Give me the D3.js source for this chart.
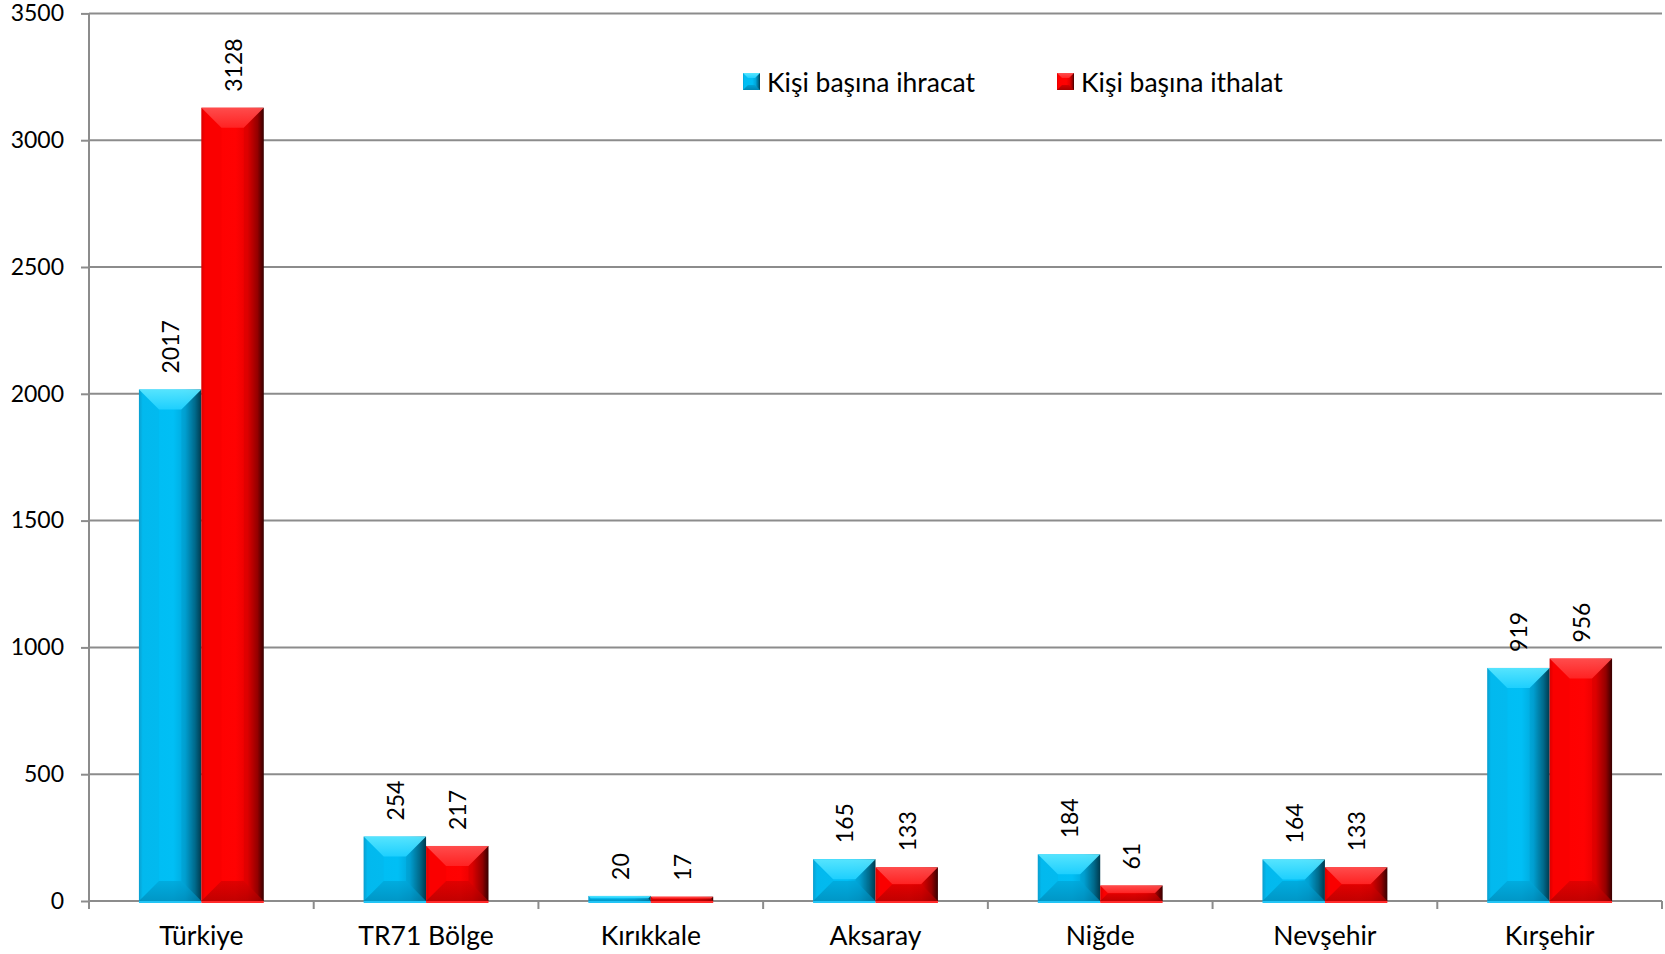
<!DOCTYPE html>
<html>
<head>
<meta charset="utf-8">
<script src="https://cdn.jsdelivr.net/npm/d3@7"></script>
<style>
  html, body { margin: 0; padding: 0; background: #ffffff; }
  svg { display: block; }
  text { font-family: Lato, "Open Sans", sans-serif; fill: #000; }
</style>
</head>
<body>
<svg id="chart" width="1665" height="954"></svg>
<script>
// ---- data ----
const categories = ["Türkiye", "TR71 Bölge", "Kırıkkale", "Aksaray", "Niğde", "Nevşehir", "Kırşehir"];
const seriesNames = ["Kişi başına ihracat", "Kişi başına ithalat"];
const exportValues = [2017, 254, 20, 165, 184, 164, 919];
const importValues = [3128, 217, 17, 133, 61, 133, 956];
const yTicks = [0, 500, 1000, 1500, 2000, 2500, 3000, 3500];

// ---- layout ----
const plotLeft = 89, plotRight = 1662, plotTop = 13.4, plotBottom = 901;
const numSize = 23, textSize = 26.5;

const svg = d3.select("#chart");
const defs = svg.append("defs");

const palettes = [
  { key: "b", base: ["#0a9ccc", "#00bdf3", "#00bff5", "#00a8dc", "#006f92", "#003d52"],
    topc: ["#5ae6ff", "#1fd0ff"], botc: ["#0086b3", "#00a4d6"], leftc: "#0aa9db" },
  { key: "r", base: ["#d80000", "#ff0000", "#ff0202", "#e80000", "#9c0000", "#3a0000"],
    topc: ["#ff5050", "#ff2424"], botc: ["#a80000", "#d40000"], leftc: "#e60000" }
];
palettes.forEach(p => {
  const g = defs.append("linearGradient").attr("id", "base-" + p.key)
    .attr("x1", "0").attr("x2", "1").attr("y1", "0").attr("y2", "0");
  const stops = [0, 0.06, 0.55, 0.74, 0.9, 1];
  stops.forEach((s, i) => g.append("stop").attr("offset", s).attr("stop-color", p.base[i]));
  const t = defs.append("linearGradient").attr("id", "top-" + p.key)
    .attr("x1", "0").attr("x2", "0").attr("y1", "0").attr("y2", "1");
  t.append("stop").attr("offset", 0).attr("stop-color", p.topc[0]);
  t.append("stop").attr("offset", 1).attr("stop-color", p.topc[1]);
  const b = defs.append("linearGradient").attr("id", "bot-" + p.key)
    .attr("x1", "0").attr("x2", "0").attr("y1", "1").attr("y2", "0");
  b.append("stop").attr("offset", 0).attr("stop-color", p.botc[0]);
  b.append("stop").attr("offset", 1).attr("stop-color", p.botc[1]);
});

// ---- scales ----
const x0 = d3.scaleBand().domain(categories).range([plotLeft, plotRight])
  .paddingInner(0.4444).paddingOuter(0.2222);
const x1 = d3.scaleBand().domain([0, 1]).range([0, x0.bandwidth()]).padding(0);
const y = d3.scaleLinear().domain([0, 3500]).range([plotBottom, plotTop]);

// ---- gridlines ----
const gridColor = "#8c8c8c";
svg.append("g").selectAll("line").data(yTicks).join("line")
  .attr("x1", plotLeft).attr("x2", plotRight)
  .attr("y1", d => y(d)).attr("y2", d => y(d))
  .attr("stroke", gridColor).attr("stroke-width", 2);

// ---- y axis ----
const yAxis = d3.axisLeft(y).tickValues(yTicks).tickSize(8).tickPadding(17).tickFormat(d3.format("d"));
const gy = svg.append("g").attr("transform", `translate(${plotLeft},0)`).call(yAxis);
gy.select(".domain").remove();
gy.selectAll(".tick line").attr("stroke", gridColor).attr("stroke-width", 2);
gy.selectAll(".tick text").attr("font-size", numSize).attr("font-family", "Lato").attr("fill", "#000");
svg.append("line").attr("x1", plotLeft).attr("x2", plotLeft).attr("y1", plotTop).attr("y2", plotBottom + 8)
  .attr("stroke", gridColor).attr("stroke-width", 2);

// ---- x axis ----
const boundaries = categories.map(c => x0(c) - x0.step() * x0.paddingInner() / 2).concat([plotRight]);
svg.append("g").selectAll("line").data(boundaries).join("line")
  .attr("x1", d => d).attr("x2", d => d).attr("y1", plotBottom).attr("y2", plotBottom + 8)
  .attr("stroke", gridColor).attr("stroke-width", 2);
svg.append("g").selectAll("text").data(categories).join("text")
  .attr("x", d => x0(d) + x0.bandwidth() / 2).attr("y", 945)
  .attr("text-anchor", "middle").attr("font-size", textSize)
  .text(d => d);

// ---- bars ----
const seriesValues = [exportValues, importValues];
const barData = [];
categories.forEach((c, i) => {
  seriesValues.forEach((vals, s) => barData.push({ cat: c, s, v: vals[i] }));
});

const barG = svg.append("g");
barData.forEach(d => {
  const p = palettes[d.s];
  const bx = x0(d.cat) + x1(d.s);
  const bw = x1.bandwidth();
  const by = y(d.v);
  const bh = y(0) - by;
  const bv = Math.min(20, bh / 2, bw / 2);
  const g = barG.append("g");
  g.append("rect").attr("x", bx).attr("y", by).attr("width", bw).attr("height", bh)
    .attr("fill", `url(#base-${p.key})`);
  g.append("path").attr("d", `M${bx},${by} L${bx + bw},${by} L${bx + bw - bv},${by + bv} L${bx + bv},${by + bv} Z`)
    .attr("fill", `url(#top-${p.key})`).attr("opacity", 0.95);
  g.append("path").attr("d", `M${bx},${by + bh} L${bx + bw},${by + bh} L${bx + bw - bv},${by + bh - bv} L${bx + bv},${by + bh - bv} Z`)
    .attr("fill", `url(#bot-${p.key})`).attr("opacity", 0.7);
  g.append("path").attr("d", `M${bx + bw},${by} L${bx + bw},${by + bh} L${bx + bw - bv},${by + bh - bv} L${bx + bw - bv},${by + bv} Z`)
    .attr("fill", "#000").attr("opacity", 0.05);
  g.append("path").attr("d", `M${bx},${by} L${bx},${by + bh} L${bx + bv},${by + bh - bv} L${bx + bv},${by + bv} Z`)
    .attr("fill", p.leftc).attr("opacity", 0.2);
  g.append("line").attr("x1", bx).attr("x2", bx + bw).attr("y1", y(0) + 1).attr("y2", y(0) + 1)
    .attr("stroke", d.s === 0 ? "#22c4f5" : "#ff2a2a").attr("stroke-width", 2);
  const lx = bx + bw / 2, ly = by - 16;
  g.append("text").attr("transform", `translate(${lx},${ly}) rotate(-90)`)
    .attr("text-anchor", "start").attr("dominant-baseline", "central")
    .attr("font-size", numSize).text(d.v);
});

// ---- legend ----
const legendPos = [743, 1057];
seriesNames.forEach((n, s) => {
  const p = palettes[s];
  const lg = svg.append("g").attr("transform", `translate(${legendPos[s]},73)`);
  const m = 17, b = 5;
  lg.append("rect").attr("width", m).attr("height", m).attr("fill", `url(#base-${p.key})`);
  lg.append("path").attr("d", `M0,0 L${m},0 L${m - b},${b} L${b},${b} Z`).attr("fill", `url(#top-${p.key})`);
  lg.append("path").attr("d", `M0,${m} L${m},${m} L${m - b},${m - b} L${b},${m - b} Z`).attr("fill", `url(#bot-${p.key})`);
  lg.append("text").attr("x", 24).attr("y", m / 2).attr("dominant-baseline", "central")
    .attr("font-size", textSize).text(n);
});
</script>
</body>
</html>
